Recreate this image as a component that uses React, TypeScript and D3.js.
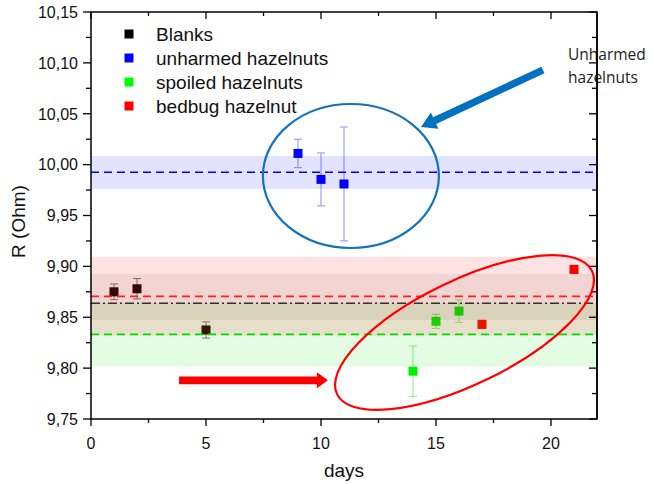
import React from "react";
import * as d3 from "d3";

// measured values
const blanksDays = [1, 2, 5];
const blanksR = [9.875, 9.878, 9.8375];
const blanksErr = [0.0077, 0.01, 0.008];

const unharmedDays = [9, 10, 11];
const unharmedR = [10.011, 9.9855, 9.981];
const unharmedErr = [0.014, 0.026, 0.056];

const spoiledDays = [14, 15, 16];
const spoiledR = [9.797, 9.846, 9.856];
const spoiledErr = [0.0247, 0.007, 0.011];

const bedbugDays = [17, 21];
const bedbugR = [9.843, 9.897];
const bedbugErr = [0.004, 0.004];

// mean lines and shaded bands [low, high]
const meanNames = ["blanks", "unharmed", "spoiled", "bedbug"];
const meanValues = [9.8637, 9.9925, 9.8332, 9.8705];
const bandLow = [9.8473, 9.976, 9.8015, 9.832];
const bandHigh = [9.8925, 10.0085, 9.864, 9.9095];

const legendLabels = ["Blanks", "unharmed hazelnuts", "spoiled hazelnuts", "bedbug hazelnut"];
const yTicks = [9.75, 9.8, 9.85, 9.9, 9.95, 10.0, 10.05, 10.1, 10.15];
const xTicks = [0, 5, 10, 15, 20];

const W = 654;
const H = 484;
const left = 91, right = 597, top = 12, bottom = 419;

const x = d3.scaleLinear().domain([0, 22]).range([left, right]);
const y = d3.scaleLinear().domain([9.75, 10.15]).range([bottom, top]);

const fmt = (v: number) => d3.format(".2f")(v).replace(".", ",");

const series = [
  { days: blanksDays, r: blanksR, err: blanksErr, color: "#1a0505", errColor: "#7a7a7a" },
  { days: unharmedDays, r: unharmedR, err: unharmedErr, color: "#0000ff", errColor: "#8c8cff" },
  { days: spoiledDays, r: spoiledR, err: spoiledErr, color: "#00ee00", errColor: "#88ee88" },
  { days: bedbugDays, r: bedbugR, err: bedbugErr, color: "#ff0000", errColor: "#ff8c8c" },
];

const bandFill = ["rgba(60,40,20,0.07)", "rgba(0,0,255,0.11)", "rgba(0,230,0,0.11)", "rgba(255,0,0,0.11)"];
const lineColor = ["#333322", "#0000ff", "#00dd00", "#ff2020"];
const lineDash = ["9,3,2,3", "8,5", "8,5", "8,5"];
const legendColors = ["#000000", "#0000ff", "#00ff00", "#ff0000"];

// arrow polygon from tail to tip
function arrowPath(x1: number, y1: number, x2: number, y2: number, sw: number, hw: number, hl: number) {
  const dx = x2 - x1, dy = y2 - y1;
  const len = Math.sqrt(dx * dx + dy * dy);
  const ux = dx / len, uy = dy / len;
  const nx = -uy, ny = ux;
  const bx = x2 - ux * hl, by = y2 - uy * hl;
  const pts = [
    [x1 + nx * sw, y1 + ny * sw],
    [bx + nx * sw, by + ny * sw],
    [bx + nx * hw, by + ny * hw],
    [x2, y2],
    [bx - nx * hw, by - ny * hw],
    [bx - nx * sw, by - ny * sw],
    [x1 - nx * sw, y1 - ny * sw],
  ];
  return "M" + pts.map((p) => p.join(",")).join("L") + "Z";
}

export default function App() {
  const font = "'Liberation Sans', Arial, sans-serif";
  const markerSize = 9;

  return (
    <svg width={W} height={H} style={{ position: "absolute", left: 0, top: 0, background: "#fff" }}>
      {/* error bars and markers */}
      {series.map((s, si) => (
        <g key={si}>
          {s.days.map((d, i) => {
            const cx = x(d);
            const y1 = y(s.r[i] + s.err[i]);
            const y2 = y(s.r[i] - s.err[i]);
            return (
              <g key={i}>
                <line x1={cx} x2={cx} y1={y1} y2={y2} stroke={s.errColor} strokeWidth={1} />
                <line x1={cx - 4} x2={cx + 4} y1={y1} y2={y1} stroke={s.errColor} strokeWidth={1} />
                <line x1={cx - 4} x2={cx + 4} y1={y2} y2={y2} stroke={s.errColor} strokeWidth={1} />
                <rect
                  x={cx - markerSize / 2}
                  y={y(s.r[i]) - markerSize / 2}
                  width={markerSize}
                  height={markerSize}
                  fill={s.color}
                />
              </g>
            );
          })}
        </g>
      ))}

      {/* bands */}
      {meanNames.map((n, i) => (
        <rect
          key={n}
          x={left}
          width={right - left}
          y={y(bandHigh[i])}
          height={y(bandLow[i]) - y(bandHigh[i])}
          fill={bandFill[i]}
        />
      ))}

      {/* mean lines */}
      {meanNames.map((n, i) => (
        <line
          key={n}
          x1={left}
          x2={right}
          y1={y(meanValues[i])}
          y2={y(meanValues[i])}
          stroke={lineColor[i]}
          strokeWidth={1.6}
          strokeDasharray={lineDash[i]}
        />
      ))}

      {/* frame and ticks */}
      <rect x={left} y={top} width={right - left} height={bottom - top} fill="none" stroke="#000" strokeWidth={1.5} />
      {d3.range(9.75, 10.1501, 0.025).map((v, i) => {
        const major = i % 2 === 0;
        const len = major ? 8 : 5;
        return (
          <g key={"y" + i}>
            <line x1={left - len} x2={left} y1={y(v)} y2={y(v)} stroke="#000" strokeWidth={1.3} />
            <line x1={right - len} x2={right} y1={y(v)} y2={y(v)} stroke="#000" strokeWidth={1.3} />
          </g>
        );
      })}
      {d3.range(0, 22.01, 2.5).map((v, i) => {
        const major = i % 2 === 0;
        const len = major ? 7 : 4;
        return (
          <g key={"x" + i}>
            <line x1={x(v)} x2={x(v)} y1={bottom} y2={bottom + len} stroke="#000" strokeWidth={1.3} />
            <line x1={x(v)} x2={x(v)} y1={top} y2={top + len} stroke="#000" strokeWidth={1.3} />
          </g>
        );
      })}
      {yTicks.map((v) => (
        <text key={v} x={78} y={y(v)} dy="0.36em" textAnchor="end" fontFamily={font} fontSize={16} fill="#111">
          {fmt(v)}
        </text>
      ))}
      {xTicks.map((v) => (
        <text key={v} x={x(v)} y={449} textAnchor="middle" fontFamily={font} fontSize={16} fill="#111">
          {v}
        </text>
      ))}
      <text x={x(11)} y={477} textAnchor="middle" fontFamily={font} fontSize={19} fill="#111">
        days
      </text>
      <text
        transform={`translate(25,${y(9.95) + 6}) rotate(-90)`}
        textAnchor="middle"
        fontFamily={font}
        fontSize={19}
        fill="#111"
      >
        R (Ohm)
      </text>

      {/* legend */}
      {legendLabels.map((l, i) => (
        <g key={l} transform={`translate(129,${34 + i * 24})`}>
          <rect x={-4.5} y={-4.5} width={9} height={9} fill={legendColors[i]} />
          <text x={27} y={0} dy="0.36em" fontFamily={font} fontSize={19} fill="#111">
            {l}
          </text>
        </g>
      ))}

      {/* annotations */}
      <ellipse cx={x(11.3)} cy={y(9.9888)} rx={88} ry={72} fill="none" stroke="#1172bd" strokeWidth={2.2} />
      <ellipse
        cx={x(16.24)}
        cy={y(9.835)}
        rx={141.6}
        ry={52}
        transform={`rotate(-25.8,${x(16.24)},${y(9.835)})`}
        fill="none"
        stroke="#ff0000"
        strokeWidth={2.2}
      />
      <path d={arrowPath(x(19.65), y(10.093), x(14.35), y(10.037), 3.6, 9, 15)} fill="#0070c0" />
      <path d={arrowPath(x(3.83), y(9.788), x(10.3), y(9.788), 3.8, 8, 11)} fill="#ff0000" />
      <text x={x(20.74)} y={y(10.103)} fontFamily="'Open Sans', sans-serif" fontSize={15.5} fill="#222">
        Unharmed
      </text>
      <text x={x(20.74)} y={y(10.08)} fontFamily="'Open Sans', sans-serif" fontSize={15.5} fill="#222">
        hazelnuts
      </text>
      {/* right axis line drawn over the note */}
      <line x1={right} x2={right} y1={top} y2={bottom} stroke="#000" strokeWidth={1.5} />
    </svg>
  );
}
